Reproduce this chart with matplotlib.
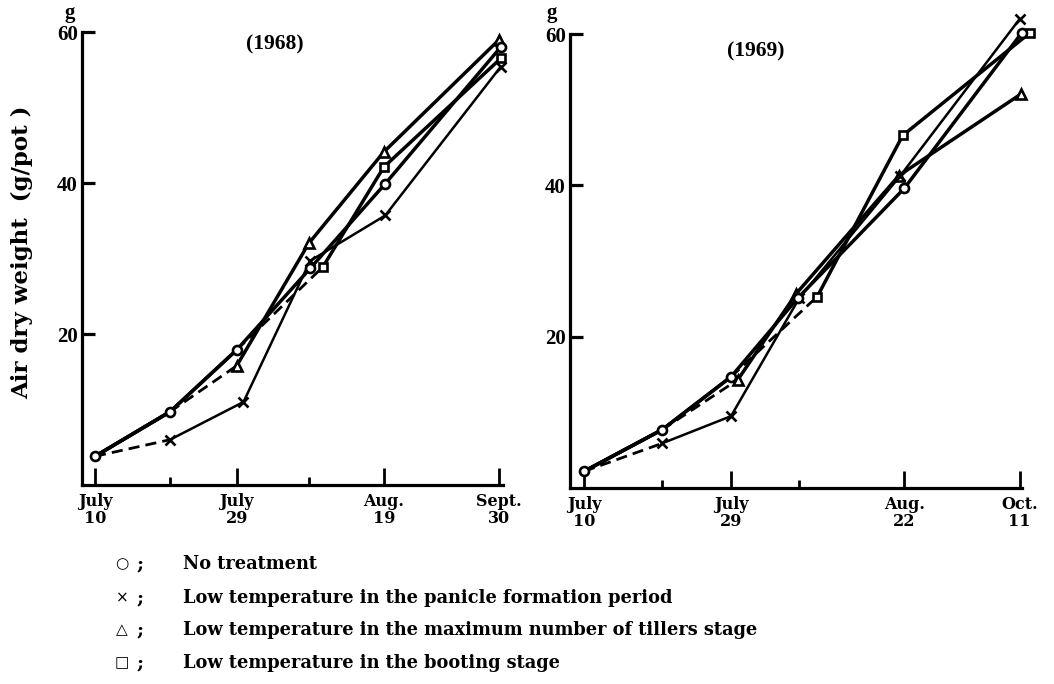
import matplotlib
matplotlib.use('Agg')
import matplotlib.pyplot as plt

plt.rcParams['font.family'] = ['Liberation Serif', 'DejaVu Sans']
plt.rcParams['font.weight'] = 'bold'

# ---- 1968 ----  (x = sampling positions along the date axis)
tick_pos_68 = [0, 1, 1.89, 2.85, 3.85, 5.39]
tick_lab_68 = ['July\n10', '', 'July\n29', '', 'Aug.\n19', 'Sept.\n30']

none_x_68 = [0, 1, 1.89, 2.87, 3.87, 5.41]
none_y_68 = [3.8, 9.7, 17.9, 28.7, 39.9, 58.0]
panicle_x_68 = [0, 1, 1.98, 2.87, 3.87, 5.41]
panicle_y_68 = [3.8, 6.0, 11.0, 29.7, 35.7, 55.4]
tiller_x_68 = [0, 1, 1.89, 2.85, 3.85, 5.39]
tiller_y_68 = [3.8, 9.7, 15.8, 32.0, 44.1, 59.0]
boot_x_68 = [0, 1, 1.89, 3.04, 3.85, 5.41]
boot_y_68 = [3.8, 9.7, 17.9, 28.9, 42.1, 56.5]

# ---- 1969 ----
tick_pos_69 = [0, 1.04, 1.96, 2.87, 4.27, 5.81]
tick_lab_69 = ['July\n10', '', 'July\n29', '', 'Aug.\n22', 'Oct.\n11']

none_x_69 = [0, 1.04, 1.96, 2.85, 4.27, 5.84]
none_y_69 = [2.2, 7.7, 14.7, 25.1, 39.6, 60.2]
panicle_x_69 = [0, 1.04, 1.96, 2.87, 4.22, 5.81]
panicle_y_69 = [2.2, 5.9, 9.5, 25.1, 41.3, 62.0]
tiller_x_69 = [0, 1.04, 2.05, 2.83, 4.20, 5.83]
tiller_y_69 = [2.2, 7.7, 14.3, 25.7, 41.3, 52.1]
boot_x_69 = [0, 1.04, 1.96, 3.11, 4.25, 5.95]
boot_y_69 = [2.2, 7.7, 14.7, 25.3, 46.6, 60.2]

legend_sym = ['○', '×', '△', '□']
legend_txt = ['No treatment',
              'Low temperature in the panicle formation period',
              'Low temperature in the maximum number of tillers stage',
              'Low temperature in the booting stage']

# style per series: marker, markersize, line width, dashed segment, first marker shown
styles = {
    'none':    dict(marker='o', ms=6.5, lw=2.5, dash=None, first=0),
    'panicle': dict(marker='x', ms=7, lw=1.8, dash=0, first=1),
    'tiller':  dict(marker='^', ms=7, lw=2.5, dash=1, first=2),
    'boot':    dict(marker='s', ms=6, lw=2.5, dash=2, first=3),
}

wide = 'DejaVu Serif'


def draw_series(ax, xs, ys, st):
    for i in range(len(xs) - 1):
        if st['dash'] == i:
            ax.plot(xs[i:i + 2], ys[i:i + 2], color='black', lw=2.0,
                    dashes=(4, 2.2), solid_capstyle='butt', clip_on=False, zorder=2)
        else:
            ax.plot(xs[i:i + 2], ys[i:i + 2], color='black', lw=st['lw'],
                    solid_capstyle='round', clip_on=False, zorder=2)
    f = st['first']
    ax.plot(xs[f:], ys[f:], ls='none', marker=st['marker'], ms=st['ms'],
            mfc='white', mec='black', mew=1.9, clip_on=False, zorder=3)


def setup_axes(ax, ticks, labels, xlim):
    ax.set_xlim(xlim)
    ax.set_ylim(0, 60)
    for s in ['top', 'right']:
        ax.spines[s].set_visible(False)
    for s in ['left', 'bottom']:
        ax.spines[s].set_linewidth(2.3)
    major = [ticks[i] for i in (0, 2, 4, 5)]
    ax.set_xticks(major)
    ax.set_xticklabels([labels[i] for i in (0, 2, 4, 5)], fontsize=11.5,
                       fontweight='bold', family=wide, linespacing=1.0)
    ax.set_xticks([ticks[1], ticks[3]], minor=True)
    ax.tick_params(axis='x', which='major', direction='in', length=12, width=2, pad=6)
    ax.tick_params(axis='x', which='minor', direction='in', length=6, width=2)
    ax.set_yticks([20, 40, 60])
    ax.set_yticklabels(['20', '40', '60'], fontsize=15, fontweight='bold')
    ax.tick_params(axis='y', direction='in', length=9, width=2.3, pad=3)


fig = plt.figure(figsize=(10.54, 6.84), dpi=100)

ax1 = fig.add_axes([0.0778, 0.2909, 0.3994, 0.6623])
setup_axes(ax1, tick_pos_68, tick_lab_68, (-0.173, 5.44))
draw_series(ax1, boot_x_68, boot_y_68, styles['boot'])
draw_series(ax1, tiller_x_68, tiller_y_68, styles['tiller'])
draw_series(ax1, panicle_x_68, panicle_y_68, styles['panicle'])
draw_series(ax1, none_x_68, none_y_68, styles['none'])
ax1.text(0.458, 0.972, '(1968)', transform=ax1.transAxes, ha='center', va='center',
         fontsize=15.5, fontweight='bold')

ax2 = fig.add_axes([0.5408, 0.2865, 0.4288, 0.6637])
setup_axes(ax2, tick_pos_69, tick_lab_69, (-0.187, 5.84))
draw_series(ax2, boot_x_69, boot_y_69, styles['boot'])
draw_series(ax2, tiller_x_69, tiller_y_69, styles['tiller'])
draw_series(ax2, panicle_x_69, panicle_y_69, styles['panicle'])
draw_series(ax2, none_x_69, none_y_69, styles['none'])
ax2.text(0.41, 0.962, '(1969)', transform=ax2.transAxes, ha='center', va='center',
         fontsize=15.5, fontweight='bold')

# unit marks above the axes
fig.text(70 / 1054, 1 - 13 / 684, 'g', ha='center', va='center', fontsize=15, fontweight='bold')
fig.text(552 / 1054, 1 - 13 / 684, 'g', ha='center', va='center', fontsize=15, fontweight='bold')

fig.text(22 / 1054, 1 - 252 / 684, 'Air dry weight  (g/pot )', rotation=90,
         ha='center', va='center', fontsize=16.5, fontweight='bold', family=wide)

# legend as text rows
rows_y = [564, 598, 630, 663]
for sym, txt, yy in zip(legend_sym, legend_txt, rows_y):
    fig.text(122 / 1054, 1 - yy / 684, sym, ha='center', va='center', fontsize=11,
             family='DejaVu Sans', fontweight='normal')
    fig.text(140 / 1054, 1 - yy / 684, ';', ha='center', va='center', fontsize=14,
             fontweight='bold', family=wide)
    fig.text(183 / 1054, 1 - yy / 684, txt, ha='left', va='center', fontsize=12.8,
             fontweight='bold', family=wide)

fig.savefig('out.png', dpi=100)
